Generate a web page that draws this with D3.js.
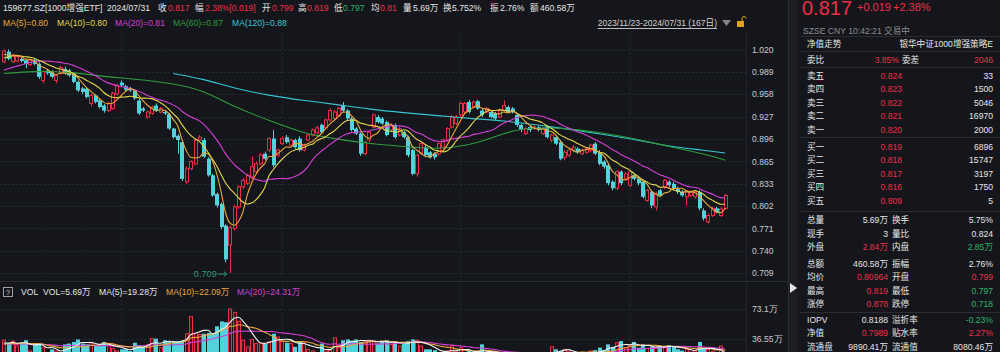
<!DOCTYPE html>
<html>
<head>
<meta charset="utf-8">
<script src="https://cdn.jsdelivr.net/npm/d3@7"></script>
<style>
  body { margin: 0; background: #15161b; overflow: hidden; }
  svg { display: block; font-family: "Liberation Sans", "Noto Sans CJK SC", sans-serif; }
</style>
</head>
<body>
<svg id="chart" width="1000" height="352"></svg>
<script>
// daily candles 2023/11/23 - 2024/07/31 (167 days)
const opens = [1.003,1.017,1.003,1.004,1.007,1.005,0.999,1.005,1.000,0.977,
  0.991,0.989,0.977,0.987,0.993,0.991,0.987,0.975,0.966,0.965,
  0.945,0.956,0.949,0.942,0.935,0.938,0.958,0.974,0.969,0.965,
  0.963,0.949,0.938,0.926,0.931,0.942,0.933,0.933,0.930,0.910,
  0.900,0.891,0.836,0.854,0.861,0.894,0.894,0.868,0.845,0.819,
  0.805,0.775,0.748,0.771,0.801,0.829,0.834,0.843,0.850,0.861,
  0.875,0.880,0.896,0.873,0.889,0.898,0.887,0.894,0.896,0.880,
  0.894,0.901,0.904,0.915,0.911,0.922,0.924,0.928,0.942,0.935,
  0.924,0.910,0.903,0.875,0.894,0.912,0.926,0.924,0.919,0.908,
  0.915,0.901,0.905,0.898,0.880,0.847,0.875,0.884,0.877,0.875,
  0.875,0.884,0.894,0.912,0.917,0.929,0.933,0.947,0.940,0.948,
  0.935,0.933,0.933,0.931,0.926,0.935,0.940,0.938,0.929,0.915,
  0.903,0.912,0.910,0.912,0.903,0.912,0.894,0.898,0.891,0.870,
  0.873,0.880,0.882,0.875,0.877,0.880,0.889,0.877,0.864,0.859,
  0.836,0.827,0.850,0.840,0.831,0.845,0.840,0.836,0.810,0.822,
  0.801,0.824,0.829,0.836,0.833,0.826,0.822,0.815,0.817,0.815,
  0.822,0.796,0.780,0.789,0.799,0.789,0.799];
const highs = [1.020,1.020,1.014,1.012,1.009,1.006,1.007,1.007,1.002,0.991,
  0.993,0.991,0.986,0.997,0.996,0.993,0.988,0.977,0.968,0.967,
  0.958,0.958,0.951,0.944,0.947,0.961,0.972,0.977,0.971,0.968,
  0.965,0.952,0.940,0.935,0.942,0.945,0.940,0.936,0.932,0.911,
  0.902,0.893,0.857,0.866,0.896,0.901,0.897,0.870,0.847,0.821,
  0.807,0.777,0.775,0.804,0.831,0.841,0.847,0.871,0.864,0.876,
  0.878,0.898,0.908,0.882,0.899,0.901,0.896,0.896,0.899,0.889,
  0.903,0.910,0.914,0.917,0.924,0.938,0.936,0.940,0.947,0.937,
  0.926,0.912,0.905,0.893,0.907,0.931,0.929,0.926,0.921,0.917,
  0.917,0.912,0.907,0.900,0.882,0.875,0.891,0.887,0.879,0.877,
  0.891,0.896,0.912,0.929,0.929,0.947,0.947,0.950,0.949,0.950,
  0.937,0.940,0.935,0.933,0.938,0.949,0.942,0.940,0.931,0.917,
  0.912,0.915,0.915,0.914,0.912,0.915,0.903,0.901,0.894,0.880,
  0.882,0.887,0.884,0.882,0.884,0.889,0.891,0.880,0.866,0.861,
  0.838,0.852,0.852,0.850,0.852,0.847,0.843,0.838,0.826,0.824,
  0.822,0.826,0.840,0.838,0.836,0.829,0.824,0.824,0.824,0.824,
  0.824,0.799,0.792,0.801,0.801,0.801,0.819];
const lows = [1.001,1.005,1.001,1.002,1.002,0.994,0.997,0.998,0.979,0.973,
  0.985,0.980,0.973,0.985,0.985,0.982,0.973,0.961,0.958,0.952,
  0.941,0.945,0.938,0.932,0.933,0.936,0.956,0.968,0.962,0.961,
  0.950,0.929,0.933,0.924,0.929,0.933,0.931,0.929,0.908,0.896,
  0.875,0.837,0.833,0.852,0.859,0.892,0.869,0.843,0.815,0.800,
  0.770,0.724,0.709,0.768,0.798,0.826,0.831,0.840,0.848,0.859,
  0.866,0.877,0.856,0.870,0.887,0.889,0.885,0.882,0.878,0.878,
  0.892,0.899,0.902,0.903,0.909,0.919,0.922,0.926,0.933,0.922,
  0.906,0.901,0.872,0.873,0.891,0.910,0.917,0.915,0.899,0.905,
  0.896,0.899,0.896,0.870,0.845,0.843,0.873,0.870,0.868,0.867,
  0.872,0.882,0.891,0.910,0.915,0.926,0.931,0.931,0.938,0.936,
  0.926,0.931,0.924,0.922,0.924,0.933,0.931,0.931,0.912,0.905,
  0.901,0.905,0.908,0.906,0.901,0.896,0.891,0.887,0.866,0.866,
  0.870,0.877,0.875,0.873,0.875,0.877,0.873,0.859,0.854,0.831,
  0.824,0.824,0.831,0.838,0.829,0.838,0.831,0.813,0.808,0.799,
  0.796,0.815,0.826,0.829,0.824,0.819,0.815,0.803,0.815,0.812,
  0.796,0.782,0.778,0.787,0.792,0.787,0.797];
const closes = [1.018,1.007,1.012,1.010,1.004,1.000,1.005,1.000,0.982,0.989,
  0.987,0.982,0.984,0.995,0.987,0.984,0.975,0.963,0.961,0.954,
  0.956,0.947,0.940,0.935,0.945,0.959,0.970,0.970,0.964,0.963,
  0.952,0.931,0.935,0.933,0.940,0.935,0.938,0.931,0.910,0.898,
  0.894,0.840,0.854,0.864,0.894,0.898,0.871,0.845,0.817,0.803,
  0.773,0.728,0.772,0.801,0.829,0.838,0.845,0.857,0.861,0.873,
  0.868,0.896,0.859,0.880,0.896,0.891,0.894,0.884,0.880,0.887,
  0.901,0.908,0.911,0.905,0.922,0.935,0.933,0.938,0.935,0.924,
  0.908,0.903,0.875,0.891,0.905,0.929,0.919,0.917,0.901,0.915,
  0.898,0.910,0.898,0.873,0.847,0.873,0.889,0.873,0.870,0.870,
  0.889,0.894,0.910,0.926,0.926,0.945,0.945,0.933,0.947,0.938,
  0.929,0.938,0.926,0.924,0.935,0.942,0.933,0.933,0.915,0.908,
  0.910,0.908,0.912,0.908,0.910,0.898,0.901,0.889,0.868,0.877,
  0.880,0.884,0.877,0.880,0.882,0.887,0.875,0.861,0.857,0.834,
  0.827,0.850,0.834,0.847,0.850,0.840,0.834,0.815,0.824,0.803,
  0.819,0.817,0.838,0.831,0.827,0.822,0.817,0.822,0.822,0.822,
  0.799,0.785,0.789,0.799,0.794,0.798,0.817];
// 成交量 (万)
const volumes = [35,31,34,28,32,35,22,30,31,26,
  20,24,22,18,30,31,33,36,31,30,
  32,28,29,33,29,25,22,24,24,22,
  32,29,27,30,37,37,26,35,34,34,
  34,34,43,64,43,42,43,44,43,52,
  58,57,73.1,69,58,35,27,36,31,31,
  31,33,43,39,34,32,31,27,33,32,
  24,22,20,31,22,23,38,26,35,36,
  34,36,33,34,35,33,31,33,35,30,
  34,28,31,34,36,35,28,24,24,23,
  20,18,22,29,22,26,20,22,18,21,
  30,18,19,17,16,18,16,15,19,17,
  14,15,13,14,17,18,27,24,22,24,
  21,19,16,18,15,22,23,26,23,30,
  27,32,34,26,29,33,26,30,25,27,
  26,28,27,29,27,24,22.4,24,20.5,22,
  33,25,24,21.7,17,28,5.69];
// closes / volumes before the window, used to seed the short averages
const priorCloses = [0.968,0.972,0.975,0.970,0.966,0.972,0.978,0.975,0.980,0.985,
  0.992,1.000,1.005,1.010,1.008,1.012,1.015,1.010,1.012];
const priorVolumes = [30,28,32,29,31,27,33,30,29,31,28,30,32,29,27,31,30,33,29];
// long averages
const ma60Idx = [0,7,15,22,30,39,46,53,61,69,76,84,92,100,107,111,115,119,125,130,138,146,153,161,166];
const ma60Vals = [0.9865,0.990,0.989,0.983,0.979,0.973,0.963,0.940,0.9215,0.903,0.896,0.889,0.885,0.881,0.887,0.894,0.903,0.910,0.911,0.910,0.904,0.895,0.885,0.875,0.866];
const ma120Idx = [39,46,53,61,69,76,84,92,100,107,115,123,130,138,146,153,161,166];
const ma120Vals = [0.9865,0.979,0.966,0.956,0.949,0.944,0.937,0.932,0.928,0.924,0.921,0.915,0.909,0.902,0.894,0.885,0.880,0.876];

const priceTicks = [0.709,0.7401,0.7712,0.8023,0.8334,0.8645,0.8956,0.9267,0.9578,0.9889,1.020];
const priceTickLabels = ["0.709","0.740","0.771","0.802","0.833","0.865","0.896","0.927","0.958","0.989","1.020"];
const volTicks = [36.55, 73.1];
const volTickLabels = ["36.55万", "73.1万"];
const gridIdx = [27, 64, 105, 144];

const sellLabels = ["卖五","卖四","卖三","卖二","卖一"];
const sellPrices = ["0.824","0.823","0.822","0.821","0.820"];
const sellVols = [33, 1500, 5046, 16970, 2000];
const buyLabels = ["买一","买二","买三","买四","买五"];
const buyPrices = ["0.819","0.818","0.817","0.816","0.809"];
const buyVols = [6896, 15747, 3197, 1750, 5];

const RED = "#ec2f47", CYAN = "#52d2da", GREEN = "#2fb36c", WHITE = "#e6e6e6", GREY = "#8c8d92";
const BG = "#15161b";
const FS = 8.6;

const svg = d3.select("#chart");
svg.append("rect").attr("width", 1000).attr("height", 352).attr("fill", BG);

function txt(g, x, y, s, color, size, anchor) {
  return g.append("text").attr("x", x).attr("y", y).attr("dy", "0.35em")
    .attr("fill", color).attr("font-size", size || FS)
    .attr("text-anchor", anchor || "start").text(s);
}

function movingAvg(prior, vals, n) {
  const all = prior.concat(vals);
  return vals.map((_, i) => d3.mean(all.slice(i + prior.length - n + 1, i + prior.length + 1)));
}

const idx = d3.range(closes.length);
const x = d3.scaleBand().domain(idx).range([1, 728]).padding(0.3);
const cx = i => x(i) + x.bandwidth() / 2;
const y = d3.scaleLinear().domain([0.709, 1.020]).range([273, 49.5]);
const yv = d3.scaleLinear().domain([0, 73.1]).range([369, 309]);

// grid
const grid = svg.append("g").attr("stroke", "#262830").attr("stroke-dasharray", "2,2");
grid.selectAll(".h").data(priceTicks).enter().append("line")
  .attr("x1", 0).attr("x2", 746).attr("y1", d => Math.round(y(d)) + 0.5).attr("y2", d => Math.round(y(d)) + 0.5);
grid.selectAll(".hv").data(volTicks).enter().append("line")
  .attr("x1", 0).attr("x2", 746).attr("y1", d => Math.round(yv(d)) + 0.5).attr("y2", d => Math.round(yv(d)) + 0.5);
grid.selectAll(".v").data(gridIdx).enter().append("line")
  .attr("x1", d => Math.round(cx(d)) + 0.5).attr("x2", d => Math.round(cx(d)) + 0.5)
  .attr("y1", 32).attr("y2", 352);

// panel frames
svg.append("line").attr("x1", 0).attr("x2", 788).attr("y1", 281.5).attr("y2", 281.5).attr("stroke", "#2a2c33");
svg.append("line").attr("x1", 746.5).attr("x2", 746.5).attr("y1", 32).attr("y2", 352).attr("stroke", "#22242a");
svg.append("rect").attr("x", 788).attr("y", 0).attr("width", 10).attr("height", 352).attr("fill", "#1c1d23");
svg.append("line").attr("x1", 788.5).attr("x2", 788.5).attr("y1", 0).attr("y2", 352).attr("stroke", "#2c2e35");
svg.append("path").attr("d", "M790,283 L797,288 L790,293 Z").attr("fill", "#e8e8e8");

// price axis
const yAxis = d3.axisRight(y).tickValues(priceTicks).tickFormat((d, i) => priceTickLabels[i]).tickSize(0).tickPadding(0);
const ya = svg.append("g").attr("transform", "translate(752,0)").call(yAxis);
ya.select(".domain").remove();
ya.selectAll("text").attr("fill", "#c9cacd").attr("font-size", FS).attr("font-family", null);

const vAxis = d3.axisRight(yv).tickValues(volTicks).tickFormat((d, i) => volTickLabels[i]).tickSize(0).tickPadding(0);
const va = svg.append("g").attr("transform", "translate(752,0)").call(vAxis);
va.select(".domain").remove();
va.selectAll("text").attr("fill", "#c9cacd").attr("font-size", FS).attr("font-family", null);

// candles
const candles = svg.append("g");
idx.forEach(i => {
  const up = closes[i] >= opens[i];
  const c = up ? RED : CYAN;
  const xc = Math.round(cx(i)) + 0.5;
  const top = y(Math.max(opens[i], closes[i])), bot = y(Math.min(opens[i], closes[i]));
  const bx = Math.round(x(i)) + 0.5, bw = Math.max(2, Math.round(x.bandwidth()));
  if (up) {
    candles.append("line").attr("x1", xc).attr("x2", xc).attr("y1", y(highs[i])).attr("y2", top).attr("stroke", c);
    candles.append("line").attr("x1", xc).attr("x2", xc).attr("y1", bot).attr("y2", y(lows[i])).attr("stroke", c);
    candles.append("rect").attr("x", bx).attr("y", top).attr("width", bw).attr("height", Math.max(1, bot - top))
      .attr("fill", BG).attr("stroke", c);
  } else {
    candles.append("line").attr("x1", xc).attr("x2", xc).attr("y1", y(highs[i])).attr("y2", y(lows[i])).attr("stroke", c);
    candles.append("rect").attr("x", bx - 0.5).attr("y", top).attr("width", bw + 1).attr("height", Math.max(1, bot - top))
      .attr("fill", c);
  }
});

// moving averages
const ma5 = movingAvg(priorCloses, closes, 5);
const ma10 = movingAvg(priorCloses, closes, 10);
const ma20 = movingAvg(priorCloses, closes, 20);
const line = d3.line().x((d, i) => cx(i)).y(d => y(d)).curve(d3.curveMonotoneX);
const sparse = d3.line().x(d => cx(d[0])).y(d => y(d[1])).curve(d3.curveBasis);
const maG = svg.append("g").attr("fill", "none").attr("stroke-width", 1.1);
maG.append("path").attr("d", sparse(d3.zip(ma120Idx, ma120Vals))).attr("stroke", "#35c6d3");
maG.append("path").attr("d", sparse(d3.zip(ma60Idx, ma60Vals))).attr("stroke", "#2e9c3c");
maG.append("path").attr("d", line(ma20)).attr("stroke", "#d43fd6");
maG.append("path").attr("d", line(ma10)).attr("stroke", "#e4d84e");
maG.append("path").attr("d", line(ma5)).attr("stroke", "#e9a83c");

// lowest price marker
const lowI = d3.minIndex(lows);
const lx = cx(lowI), ly = y(lows[lowI]) + 1;
txt(svg, lx - 13, ly, lows[lowI].toFixed(3), "#2f9a78", FS + 0.6, "end");
svg.append("path").attr("d", `M${lx - 12},${ly} H${lx - 3} M${lx - 6},${ly - 2.5} L${lx - 3},${ly} L${lx - 6},${ly + 2.5}`)
  .attr("stroke", "#2f9a78").attr("fill", "none");

// volume bars
const vol = svg.append("g");
idx.forEach(i => {
  const up = closes[i] >= opens[i];
  const bx = Math.round(x(i)) + 0.5, bw = Math.max(2, Math.round(x.bandwidth()));
  if (up) {
    vol.append("rect").attr("x", bx).attr("y", yv(volumes[i])).attr("width", bw).attr("height", 369 - yv(volumes[i]))
      .attr("fill", "#3a141c").attr("stroke", RED);
  } else {
    vol.append("rect").attr("x", bx - 0.5).attr("y", yv(volumes[i])).attr("width", bw + 1).attr("height", 369 - yv(volumes[i]))
      .attr("fill", CYAN);
  }
});
const vline = d3.line().x((d, i) => cx(i)).y(d => yv(d)).curve(d3.curveMonotoneX);
const vm5 = movingAvg(priorVolumes, volumes, 5);
const vm10 = movingAvg(priorVolumes, volumes, 10);
const vm20 = movingAvg(priorVolumes, volumes, 20);
const vmG = svg.append("g").attr("fill", "none").attr("stroke-width", 1.1);
vmG.append("path").attr("d", vline(vm20)).attr("stroke", "#d43fd6");
vmG.append("path").attr("d", vline(vm10)).attr("stroke", "#e9a83c");
vmG.append("path").attr("d", vline(vm5)).attr("stroke", "#f2f2f2");

// header rows
const head = svg.append("g");
[[3,"159677.SZ[1000增强ETF]",WHITE],[107,"2024/07/31",WHITE],[158,"收",WHITE],[168,"0.817",RED],
 [195,"幅",WHITE],[205,"2.38%[0.019]",RED],[262,"开",WHITE],[272,"0.799",RED],[298,"高",WHITE],[307,"0.819",RED],
 [334,"低",WHITE],[343,"0.797",GREEN],[371,"均",WHITE],[380,"0.81",RED],[403,"量",WHITE],[413,"5.69万",WHITE],
 [443,"换",WHITE],[452,"5.752%",WHITE],[490,"振",WHITE],[500,"2.76%",WHITE],[530,"额",WHITE],[540,"460.58万",WHITE]]
  .forEach(d => txt(head, d[0], 8, d[1], d[2]));
[[3,"MA(5)=0.80","#e9a83c"],[57,"MA(10)=0.80","#e4d84e"],[115,"MA(20)=0.81","#d43fd6"],
 [173,"MA(60)=0.87","#2e9c3c"],[232,"MA(120)=0.88","#35c6d3"]]
  .forEach(d => txt(head, d[0], 23, d[1], d[2]));
const dr = txt(head, 717, 23, "2023/11/23-2024/07/31 (167日)", "#d0d0d0", FS, "end");
const drw = dr.node().getComputedTextLength();
head.append("line").attr("x1", 717 - drw).attr("x2", 717).attr("y1", 28.5).attr("y2", 28.5).attr("stroke", "#c0c0c0");
head.append("path").attr("d", "M722,20 L731,20 L726.5,26 Z").attr("fill", "#85868b");
head.append("rect").attr("x", 737).attr("y", 21).attr("width", 7).attr("height", 6).attr("fill", "#e0a020");
head.append("path").attr("d", "M742,21 v-2.5 a2,2 0 0 1 4,0").attr("stroke", "#e0a020").attr("fill", "none");

// volume header
head.append("rect").attr("x", 3.5).attr("y", 287.5).attr("width", 9).attr("height", 9).attr("fill", "none").attr("stroke", "#a0a0a0");
txt(head, 8, 292, "?", "#d0d0d0", 8, "middle");
[[21,"VOL",WHITE],[43,"VOL=5.69万",WHITE],[99,"MA(5)=19.28万",WHITE],[166,"MA(10)=22.09万","#e9a83c"],[237,"MA(20)=24.31万","#d43fd6"]]
  .forEach(d => txt(head, d[0], 292, d[1], d[2]));

// right quote panel
const rp = svg.append("g");
rp.append("text").attr("x", 802).attr("y", 15).attr("fill", RED).attr("font-size", 21)
  .attr("textLength", 50).attr("lengthAdjust", "spacingAndGlyphs").text("0.817");
txt(rp, 857, 7, "+0.019", RED, 11);
txt(rp, 893, 7, "+2.38%", RED, 11);
txt(rp, 803, 31, "SZSE  CNY  10:42:21  交易中", GREY, FS);
txt(rp, 807, 44, "净值走势", WHITE);
txt(rp, 993, 44, "银华中证1000增强策略E", WHITE, FS, "end");
txt(rp, 807, 59.5, "委比", WHITE);
txt(rp, 899, 59.5, "3.85%", RED, FS, "end");
txt(rp, 902, 59.5, "委差", WHITE);
txt(rp, 993, 59.5, "2046", RED, FS, "end");
const sepY = [36.5, 51.5, 67.5, 137.5, 211.5, 312.5];
rp.selectAll(".sep").data(sepY).enter().append("line")
  .attr("x1", 800).attr("x2", 1000).attr("y1", d => d).attr("y2", d => d).attr("stroke", "#2b2d33");
const sellY = [75.5, 89, 102.5, 116, 129.5];
const buyY = [146.5, 160, 173.5, 187, 200.5];
sellLabels.forEach((s, i) => {
  txt(rp, 807, sellY[i], s, WHITE);
  txt(rp, 902, sellY[i], sellPrices[i], RED, FS, "end");
  txt(rp, 993, sellY[i], sellVols[i], WHITE, FS, "end");
});
buyLabels.forEach((s, i) => {
  txt(rp, 807, buyY[i], s, WHITE);
  txt(rp, 902, buyY[i], buyPrices[i], RED, FS, "end");
  txt(rp, 993, buyY[i], buyVols[i], WHITE, FS, "end");
});
const statY = [220, 233.5, 247, 263.5, 277, 290.5, 304, 319.5, 333, 347];
const stats = [
  ["总量","5.69万",WHITE,"换手","5.75%",WHITE],
  ["现手","3",WHITE,"量比","0.824",WHITE],
  ["外盘","2.84万",RED,"内盘","2.85万",GREEN],
  ["总额","460.58万",WHITE,"振幅","2.76%",WHITE],
  ["均价","0.80964",RED,"开盘","0.799",RED],
  ["最高","0.819",RED,"最低","0.797",GREEN],
  ["涨停","0.878",RED,"跌停","0.718",GREEN],
  ["IOPV","0.8188",WHITE,"溢折率","-0.23%",GREEN],
  ["净值","0.7989",RED,"贴水率","2.27%",RED],
  ["流通盘","9890.41万",WHITE,"流通值","8080.46万",WHITE]];
stats.forEach((r, i) => {
  txt(rp, 807, statY[i], r[0], WHITE);
  txt(rp, 888, statY[i], r[1], r[2], FS, "end");
  txt(rp, 892, statY[i], r[3], WHITE);
  txt(rp, 993, statY[i], r[4], r[5], FS, "end");
});
</script>
</body>
</html>
